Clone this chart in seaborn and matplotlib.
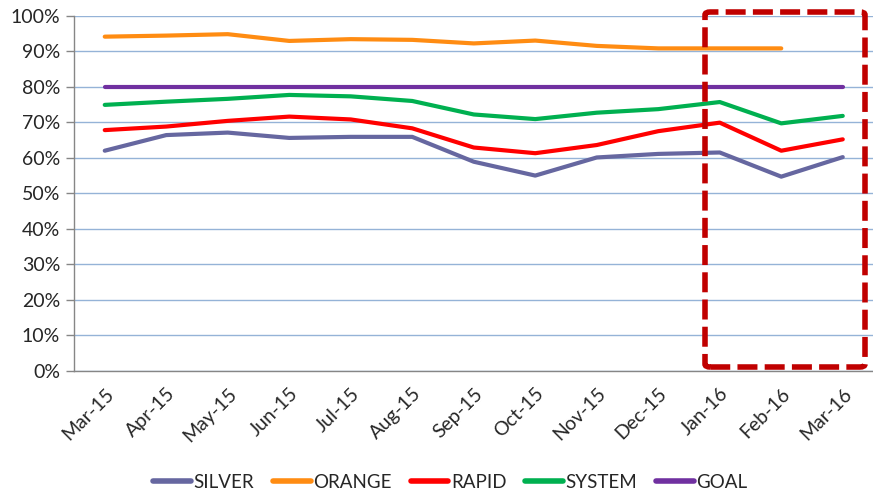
import numpy as np
import pandas as pd
import matplotlib
matplotlib.use("Agg")
import matplotlib.pyplot as plt
from matplotlib.patches import FancyBboxPatch
from matplotlib.lines import Line2D
import seaborn as sns

months = ["Mar-15", "Apr-15", "May-15", "Jun-15", "Jul-15", "Aug-15", "Sep-15",
          "Oct-15", "Nov-15", "Dec-15", "Jan-16", "Feb-16", "Mar-16"]
silver = [62.0, 66.4, 67.1, 65.6, 65.9, 65.9, 58.9, 55.0, 60.1, 61.1, 61.5, 54.7, 60.2]
orange = [94.1, 94.4, 94.8, 92.9, 93.4, 93.2, 92.2, 93.0, 91.5, 90.8, 90.8, 90.8, np.nan]
rapid = [67.8, 68.8, 70.4, 71.6, 70.8, 68.3, 62.9, 61.3, 63.6, 67.5, 69.9, 62.0, 65.2]
system = [74.9, 75.8, 76.6, 77.7, 77.3, 76.0, 72.2, 70.9, 72.7, 73.7, 75.7, 69.7, 71.8]
goal = [80.0] * 13

series = {"SILVER": silver, "ORANGE": orange, "RAPID": rapid, "SYSTEM": system, "GOAL": goal}
colors = {"SILVER": "#6667A0", "ORANGE": "#FF8C12", "RAPID": "#FF0000",
          "SYSTEM": "#00B050", "GOAL": "#7030A0"}

rows = []
for name, vals in series.items():
    for i, v in enumerate(vals):
        rows.append({"idx": i, "value": v / 100.0, "series": name})
df = pd.DataFrame(rows)

sns.set_style("white")
plt.rcParams["font.family"] = ["Lato", "DejaVu Sans"]

fig = plt.figure(figsize=(8.73, 4.93), dpi=100)
ax = fig.add_axes([74 / 873, 1 - 371 / 493, 799.5 / 873, (371 - 15.7) / 493])

sns.lineplot(data=df, x="idx", y="value", hue="series", palette=colors,
             hue_order=list(series.keys()), linewidth=3.0, ax=ax, legend=False,
             estimator=None, sort=False)

ax.set_xlim(-0.5, len(months) - 0.5)
ax.set_ylim(0, 1.0)
ax.set_yticks(np.arange(0, 1.01, 0.1))
ax.set_yticklabels([f"{int(round(t * 100))}%" for t in np.arange(0, 1.01, 0.1)],
                   fontsize=14, color="#262626")
ax.yaxis.grid(True, color="#95B3D7", linewidth=1.0)
ax.set_axisbelow(True)

ax.set_xticks(range(len(months)))
ax.set_xticklabels(months, rotation=45, ha="right", rotation_mode="anchor",
                   fontsize=14, color="#262626")
ax.set_xticks(np.arange(-0.5, len(months), 1.0), minor=True)
ax.tick_params(axis="x", which="major", length=0, pad=10)
ax.tick_params(axis="x", which="minor", length=6, color="#868686", width=1)
ax.tick_params(axis="y", which="major", length=6, color="#868686", width=1, left=True, pad=4)
ax.set_xlabel("")
ax.set_ylabel("")

for s in ["top", "right"]:
    ax.spines[s].set_visible(False)
for s in ["left", "bottom"]:
    ax.spines[s].set_color("#868686")
    ax.spines[s].set_linewidth(1)

handles = [Line2D([0], [0], color=colors[n], linewidth=4) for n in series]
fig.legend(handles, list(series.keys()), loc="center", bbox_to_anchor=(0.516, 0.022),
           ncol=5, frameon=False, fontsize=13.5, handlelength=2.0, handletextpad=0.15,
           columnspacing=1.0, labelcolor="#262626")

box = FancyBboxPatch((705 / 873, 1 - 367 / 493), (865 - 705) / 873, (367 - 12) / 493,
                     boxstyle="round,pad=0,rounding_size=0.006", transform=fig.transFigure,
                     fill=False, edgecolor="#C00000", linewidth=4.0,
                     linestyle=(0, (3.6, 1.3)), zorder=10)
fig.patches.append(box)

fig.savefig("out.png", dpi=100)
